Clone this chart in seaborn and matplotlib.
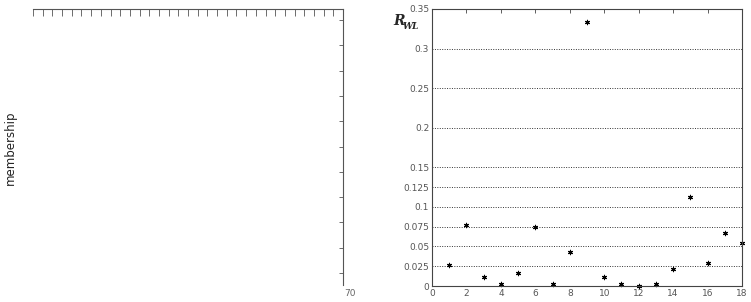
import matplotlib
matplotlib.use("Agg")
import matplotlib.pyplot as plt
import seaborn as sns
import pandas as pd

# données
indices = list(range(1, 19))
r_wl = [0.026, 0.077, 0.011, 0.002, 0.017, 0.075, 0.002, 0.043, 0.333,
        0.011, 0.002, 0.000, 0.003, 0.021, 0.113, 0.029, 0.067, 0.054]
y_ticks = [0, 0.025, 0.05, 0.075, 0.1, 0.125, 0.15, 0.2, 0.25, 0.3, 0.35]
y_labels = ["0", "0.025", "0.05", "0.075", "0.1", "0.125", "0.15", "0.2", "0.25", "0.3", "0.35"]
x_ticks = list(range(0, 19, 2))

sns.set_style("white")
plt.rcParams['font.family'] = ['DejaVu Sans']

W, H = 751, 302
fig = plt.figure(figsize=(W / 100, H / 100), dpi=100)

def box(x0, y0, x1, y1):
    return [x0 / W, 1 - y1 / H, (x1 - x0) / W, (y1 - y0) / H]

# panneau gauche (fragment d'axes)
axl = fig.add_axes(box(33, 9, 343, 285))
axl.set_xlim(0, 32)
axl.set_ylim(0, 276)
for s in ['left', 'bottom']:
    axl.spines[s].set_visible(False)
for s in ['top', 'right']:
    axl.spines[s].set_color('#555555')
    axl.spines[s].set_linewidth(0.8)
axl.xaxis.tick_top()
axl.yaxis.tick_right()
axl.set_xticks(range(0, 32))
axl.set_yticks([12 + 25.3 * k for k in range(11)])
axl.tick_params(axis='x', direction='in', length=5, width=0.6, color='#555555', labeltop=False)
axl.tick_params(axis='y', direction='in', length=3, width=0.6, color='#555555', labelright=False)
axl.text(1.005, -0.015, "70", transform=axl.transAxes, fontsize=6.5, color='#666666',
         ha='left', va='top')
fig.text(10 / W, 1 - 148 / H, "membership", rotation=90, fontsize=8.5, color='#222222',
         ha='center', va='center')

# panneau droit
axr = fig.add_axes(box(432, 9, 742, 286))
df = pd.DataFrame({'idx': indices, 'rwl': r_wl})
sns.scatterplot(data=df, x='idx', y='rwl', ax=axr, marker=(6, 2, 0), s=10,
                color='black', linewidth=0.8, edgecolor='black', clip_on=False)
axr.set_xlim(0, 18)
axr.set_ylim(0, 0.35)
axr.set_xticks(x_ticks)
axr.set_xticklabels([str(v) for v in x_ticks])
axr.set_yticks(y_ticks)
axr.set_yticklabels(y_labels)
axr.set_xlabel("")
axr.set_ylabel("")
for s in axr.spines.values():
    s.set_color('#444444')
    s.set_linewidth(0.8)
axr.tick_params(axis='both', direction='in', length=3, width=0.6, color='#444444',
                labelsize=6.5, labelcolor='#555555', pad=2, top=True, right=False)
axr.yaxis.grid(True, linestyle=(0, (1, 1.5)), color='#333333', linewidth=0.7)
axr.xaxis.grid(False)
fig.text(393 / W, 1 - 25 / H, "R", fontsize=10, fontweight='bold', style='italic',
         family='DejaVu Serif', ha='left', va='baseline')
fig.text(403 / W, 1 - 29 / H, "WL", fontsize=6.5, fontweight='bold', style='italic',
         family='DejaVu Serif', ha='left', va='baseline')

fig.savefig("out.png", dpi=100)
